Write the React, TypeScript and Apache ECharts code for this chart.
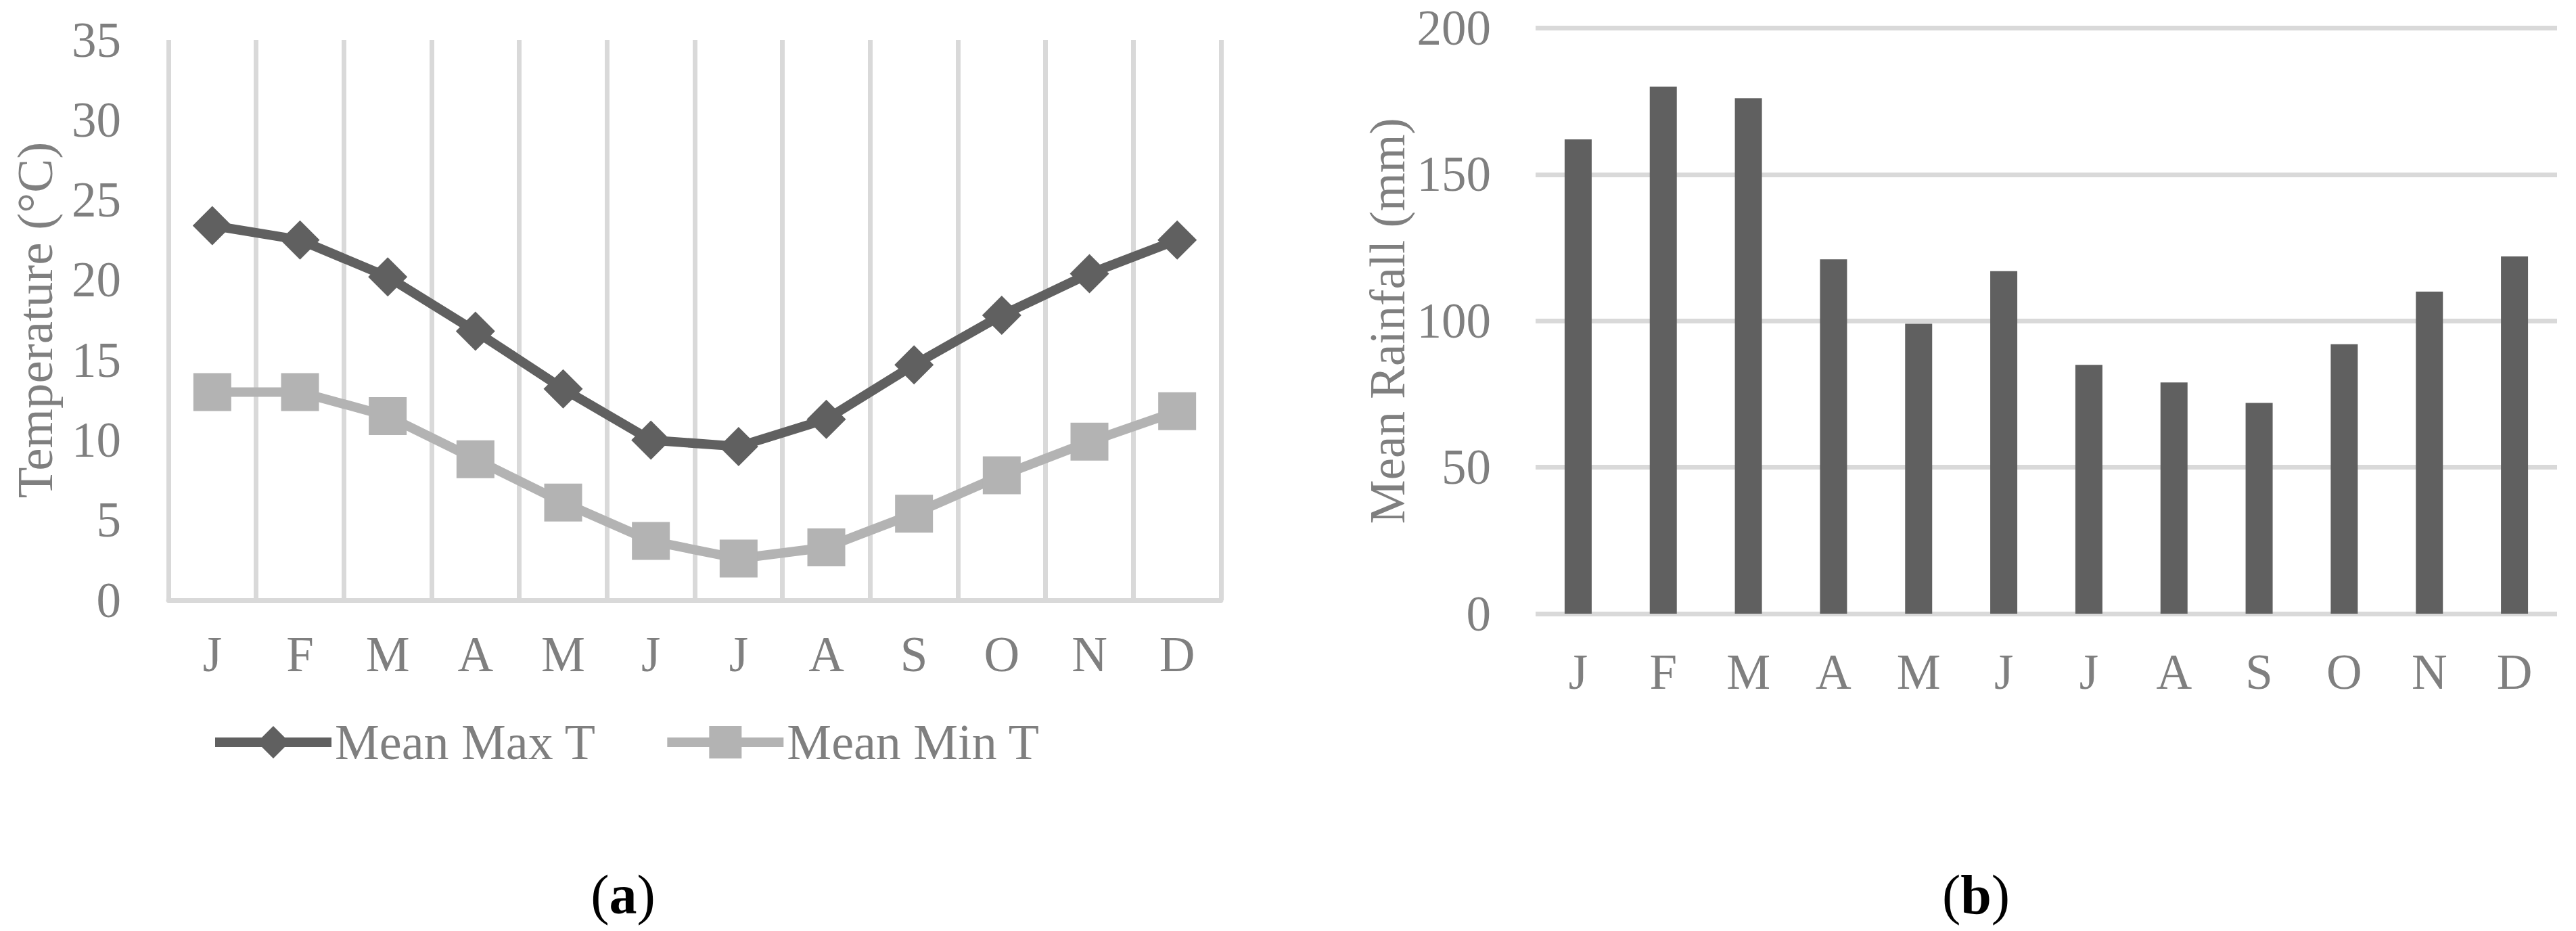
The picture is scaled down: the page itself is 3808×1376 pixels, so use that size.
import React, { useEffect, useRef } from "react";
import * as echarts from "echarts";

// Monthly climate normals
const months = ["J", "F", "M", "A", "M", "J", "J", "A", "S", "O", "N", "D"];
const meanMaxT = [23.4, 22.5, 20.2, 16.8, 13.2, 10.0, 9.6, 11.3, 14.7, 17.8, 20.4, 22.5];
const meanMinT = [13.0, 13.0, 11.5, 8.8, 6.1, 3.7, 2.6, 3.3, 5.4, 7.8, 9.9, 11.8];
const meanRainfall = [162, 180, 176, 121, 99, 117, 85, 79, 72, 92, 110, 122];

const tempTicks = { min: 0, max: 35, interval: 5 };
const rainTicks = { min: 0, max: 200, interval: 50 };

const FONT = '"Liberation Serif", "Times New Roman", serif';
const TEXT = "#7f7f7f";
const GRID = "#d9d9d9";
const DARK = "#606060";
const LIGHT = "#b3b3b3";
const FS = 73;
const LINE_W = 14;

export default function App() {
  const ref = useRef<HTMLDivElement>(null);

  useEffect(() => {
    document.body.style.margin = "0";
    const chart = echarts.init(ref.current!, null, { renderer: "svg" });

    const labelStyle = { fontSize: FS, color: TEXT, fontFamily: FONT };
    const panelTag = (letter: string, x: number) => ({
      type: "text",
      x,
      y: 1322,
      style: {
        text: `{n|(}{b|${letter}}{n|)}`,
        align: "center",
        verticalAlign: "middle",
        rich: {
          n: { fontSize: 82, fontFamily: FONT, fill: "#000" },
          b: { fontSize: 82, fontFamily: FONT, fontWeight: "bold", fill: "#000" },
        },
      },
    });

    chart.setOption({
      animation: false,
      backgroundColor: "#ffffff",
      grid: [
        { left: 249, top: 59, width: 1556, height: 828 },
        { left: 2270, top: 41.5, width: 1510, height: 865.5 },
      ],
      legend: {
        data: ["Mean Max T", "Mean Min T"],
        left: 306,
        top: 1055,
        itemWidth: 172,
        itemHeight: 60,
        itemGap: 98,
        lineStyle: { width: LINE_W },
        textStyle: { ...labelStyle, fontSize: 74 },
      },
      xAxis: [
        {
          gridIndex: 0,
          type: "category",
          data: months,
          boundaryGap: true,
          axisLine: { show: true, lineStyle: { color: GRID, width: 7 } },
          axisTick: { show: false },
          splitLine: { show: true, lineStyle: { color: GRID, width: 7 } },
          axisLabel: { ...labelStyle, margin: 44, interval: 0 },
        },
        {
          gridIndex: 1,
          type: "category",
          data: months,
          boundaryGap: true,
          axisLine: { show: false },
          axisTick: { show: false },
          splitLine: { show: false },
          axisLabel: { ...labelStyle, margin: 50, interval: 0 },
        },
      ],
      yAxis: [
        {
          gridIndex: 0,
          type: "value",
          ...tempTicks,
          axisLine: { show: false },
          axisTick: { show: false },
          splitLine: { show: false },
          axisLabel: { ...labelStyle, margin: 70 },
          name: "Temperature (°C)",
          nameLocation: "middle",
          nameRotate: 90,
          nameGap: 160,
          nameTextStyle: { ...labelStyle, fontSize: 75 },
        },
        {
          gridIndex: 1,
          type: "value",
          ...rainTicks,
          axisLine: { show: false },
          axisTick: { show: false },
          splitLine: { show: true, lineStyle: { color: GRID, width: 7 } },
          axisLabel: { ...labelStyle, margin: 66 },
          name: "Mean Rainfall (mm)",
          nameLocation: "middle",
          nameRotate: 90,
          nameGap: 182,
          nameTextStyle: { ...labelStyle },
        },
      ],
      series: [
        {
          name: "Mean Max T",
          type: "line",
          xAxisIndex: 0,
          yAxisIndex: 0,
          data: meanMaxT,
          symbol: "diamond",
          symbolSize: [58, 58],
          lineStyle: { color: DARK, width: LINE_W },
          itemStyle: { color: DARK },
          z: 3,
        },
        {
          name: "Mean Min T",
          type: "line",
          xAxisIndex: 0,
          yAxisIndex: 0,
          data: meanMinT,
          symbol: "rect",
          symbolSize: 56,
          lineStyle: { color: LIGHT, width: LINE_W },
          itemStyle: { color: LIGHT },
          z: 2,
        },
        {
          name: "Mean Rainfall",
          type: "bar",
          xAxisIndex: 1,
          yAxisIndex: 1,
          data: meanRainfall,
          barWidth: 40,
          itemStyle: { color: DARK },
        },
      ],
      graphic: [panelTag("a", 921), panelTag("b", 2921)],
    });

    return () => chart.dispose();
  }, []);

  return (
    <div
      ref={ref}
      style={{ position: "fixed", left: 0, top: 0, width: 3808, height: 1376, background: "#fff" }}
    />
  );
}
